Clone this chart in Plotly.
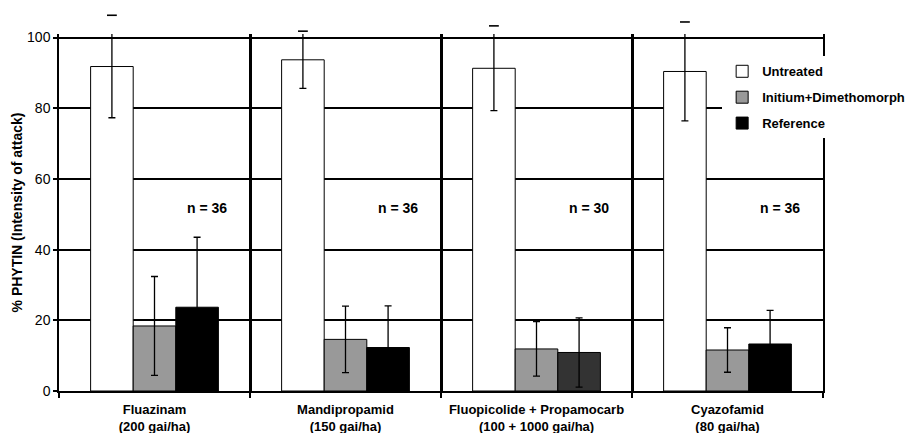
import plotly.graph_objects as go

categories = ["Fluazinam<br>(200 gai/ha)", "Mandipropamid<br>(150 gai/ha)",
              "Fluopicolide + Propamocarb<br>(100 + 1000 gai/ha)", "Cyazofamid<br>(80 gai/ha)"]
untreated = [91.8, 93.7, 91.3, 90.4]
untreated_sd = [14.5, 8.1, 12.0, 14.0]
initium = [18.4, 14.6, 11.9, 11.6]
initium_sd = [14.0, 9.4, 7.7, 6.3]
reference = [23.7, 12.3, 10.9, 13.3]
reference_sd = [19.8, 11.8, 9.8, 9.5]
reference_colors = ["#000000", "#000000", "#333333", "#000000"]
n_labels = ["n = 36", "n = 36", "n = 30", "n = 36"]
n_label_y = 51.7
y_ticks = [0, 20, 40, 60, 80, 100]

FONT = "Liberation Sans, Arial, sans-serif"
BARGAP = 0.331
YMAX = 101

W, H = 911, 433
M_L, M_R, M_T, M_B = 59, 88, 5, 42
PLOT_TOP_PX = 34                      # pixel row of the main plot's top edge
area_h = H - M_T - M_B
dom_top = (H - M_B - PLOT_TOP_PX) / area_h
Y2MAX = YMAX / dom_top                # same data-to-pixel scale, taller clip area

pos = list(range(len(categories)))
bounds = [p - 0.5 for p in pos] + [pos[-1] + 0.5]

def err(sd):
    return dict(type="data", array=sd, visible=True, color="black", thickness=1.3, width=3.5)

fig = go.Figure()
fig.add_trace(go.Bar(name="<b>Untreated</b>", x=pos, y=untreated, error_y=err(untreated_sd),
                     marker=dict(color="white", line=dict(color="black", width=1)),
                     legendgroup="a"))
fig.add_trace(go.Bar(name="<b>Initium+Dimethomorph</b>", x=pos, y=initium, error_y=err(initium_sd),
                     marker=dict(color="#999999", line=dict(color="black", width=1)),
                     legendgroup="b"))
fig.add_trace(go.Bar(name="<b>Reference</b>", x=pos, y=reference, error_y=err(reference_sd),
                     marker=dict(color=reference_colors, line=dict(color="black", width=1)),
                     legendgroup="c"))

# upper caps of error bars that reach beyond the plotted range
bar_w = (1 - BARGAP) / 3
cap_x, cap_y = [], []
for i, (m, s) in enumerate(zip(untreated, untreated_sd)):
    if m + s > YMAX:
        cap_x.append(pos[i] - bar_w)
        cap_y.append(m + s)
fig.add_trace(go.Scatter(x=cap_x, y=cap_y, xaxis="x2", yaxis="y2", mode="markers",
                         marker=dict(symbol="line-ew", size=7, color="black",
                                     line=dict(color="black", width=1.6)),
                         showlegend=False, hoverinfo="skip"))

for i, t in enumerate(n_labels):
    fig.add_annotation(x=pos[i] + 0.275, y=n_label_y, text="<b>%s</b>" % t, showarrow=False,
                       font=dict(family=FONT, size=14, color="black"))

fig.update_layout(
    width=W, height=H,
    margin=dict(l=M_L, r=M_R, t=M_T, b=M_B, autoexpand=False),
    paper_bgcolor="white", plot_bgcolor="rgba(0,0,0,0)",
    barmode="group", bargap=BARGAP, bargroupgap=0,
    font=dict(family=FONT, size=13, color="black"),
    legend=dict(x=0.868, y=0.867, xanchor="left", yanchor="top", bgcolor="white",
                font=dict(family=FONT, size=13, color="black"), tracegroupgap=6,
                itemclick=False),
    xaxis=dict(range=[bounds[0], bounds[-1]], tickvals=pos, ticktext=["<b>%s</b>" % c for c in categories],
               ticks="", showgrid=False, zeroline=False, automargin=False, ticklabelstandoff=6,
               showline=True, linecolor="black", linewidth=1.5,
               tickfont=dict(family=FONT, size=13, color="black"),
               minor=dict(tickvals=bounds, ticks="outside", ticklen=5, tickwidth=1.5, tickcolor="black",
                          showgrid=True, gridcolor="black", gridwidth=2.5)),
    xaxis2=dict(range=[bounds[0], bounds[-1]], anchor="y2", visible=False, showgrid=False,
                automargin=False),
    yaxis=dict(domain=[0, dom_top], range=[0, YMAX], tickvals=y_ticks, showgrid=True, automargin=False,
               gridcolor="black", gridwidth=1.5, zeroline=False,
               showline=True, mirror=True, linecolor="black", linewidth=1.5,
               ticks="outside", ticklen=4, tickwidth=1.5, tickcolor="black",
               tickfont=dict(family=FONT, size=14, color="black"),
               tickprefix="<b>", ticksuffix="</b>",
               title=dict(text="<b>% PHYTIN (Intensity of attack)</b>", standoff=1,
                          font=dict(family=FONT, size=14, color="black"))),
    yaxis2=dict(domain=[0, 1], range=[0, Y2MAX], anchor="x2", visible=False, showgrid=False,
                automargin=False),
)
fig.write_html("out.html", config={"displayModeBar": False},
               post_script="document.body.style.margin='0px';")
